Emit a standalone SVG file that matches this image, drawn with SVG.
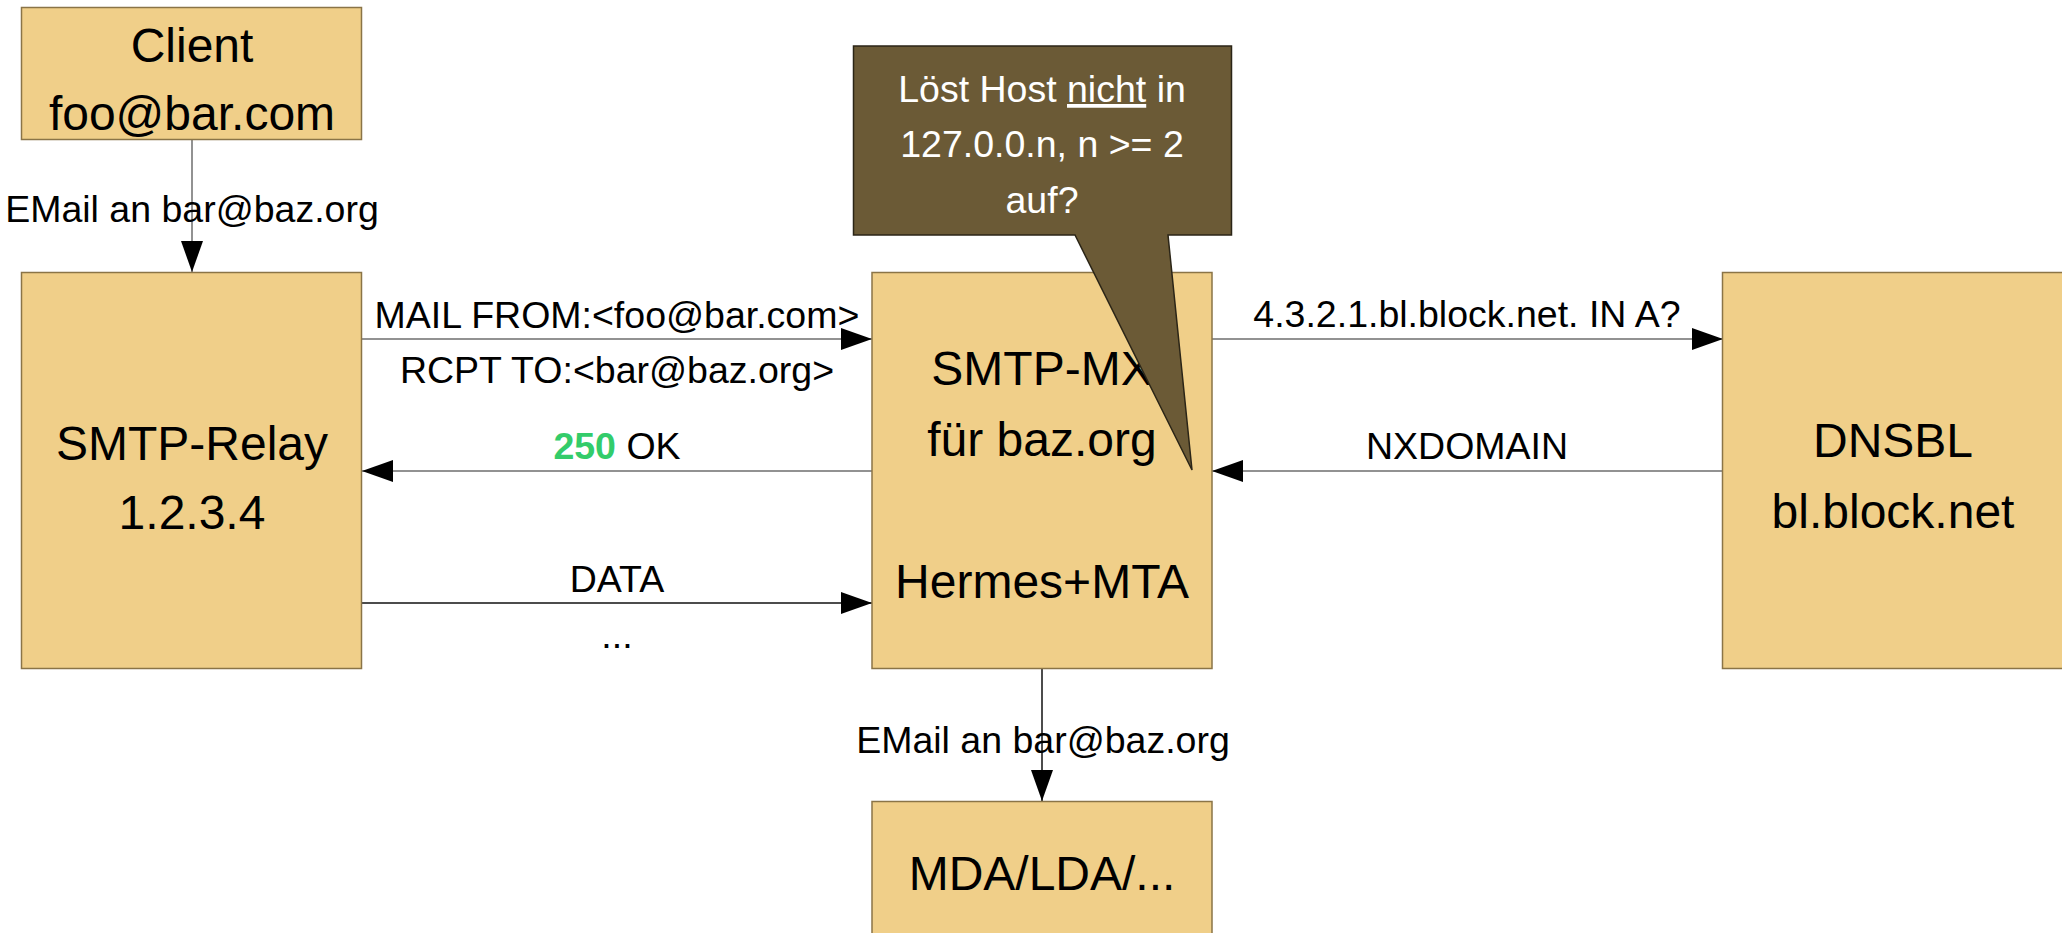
<svg xmlns="http://www.w3.org/2000/svg" width="2062" height="933" viewBox="0 0 2062 933">
  <style>
    .box { fill: #F0CF89; stroke: #8A7447; stroke-width: 1.5; }
    .node { font-family: "Liberation Sans", Arial, sans-serif; font-size: 48px; fill: #000; text-anchor: middle; }
    .lbl { font-family: "Liberation Sans", Arial, sans-serif; font-size: 37.5px; fill: #000; text-anchor: middle; }
    .edge { stroke: #6e6e6e; stroke-width: 1.5; fill: none; }
    .edge.dark { stroke: #111; }
    .note { fill: #6B5A36; stroke: #2B2517; stroke-width: 1.5; }
    .notetext { font-family: "Liberation Sans", Arial, sans-serif; font-size: 37.5px; fill: #fff; text-anchor: middle; }
  </style>
  <defs>
    <marker id="arrow" markerUnits="userSpaceOnUse" markerWidth="32" markerHeight="22" refX="31" refY="11" orient="auto">
      <path d="M0,0 L31,11 L0,22 Z" fill="#000"/>
    </marker>
  </defs>

  <rect width="2062" height="933" fill="#fff"/>

  <!-- connectors -->
  <g id="connectors">
    <line class="edge" x1="192" y1="139.5" x2="192" y2="272" marker-end="url(#arrow)"/>
    <line class="edge" x1="362" y1="339" x2="872" y2="339" marker-end="url(#arrow)"/>
    <line class="edge" x1="872" y1="471" x2="362" y2="471" marker-end="url(#arrow)"/>
    <line class="edge dark" x1="362" y1="603" x2="872" y2="603" marker-end="url(#arrow)"/>
    <line class="edge" x1="1212" y1="339" x2="1723" y2="339" marker-end="url(#arrow)"/>
    <line class="edge" x1="1723" y1="471" x2="1212" y2="471" marker-end="url(#arrow)"/>
    <line class="edge dark" x1="1042" y1="668.5" x2="1042" y2="801" marker-end="url(#arrow)"/>

    <text class="lbl" x="192" y="222">EMail an bar@baz.org</text>
    <text class="lbl" x="617" y="328">MAIL FROM:&lt;foo@bar.com&gt;</text>
    <text class="lbl" x="617" y="383">RCPT TO:&lt;bar@baz.org&gt;</text>
    <text class="lbl" x="617" y="459"><tspan fill="#33CC6A" font-weight="bold">250</tspan> OK</text>
    <text class="lbl" x="617" y="592">DATA</text>
    <text class="lbl" x="617" y="648">...</text>
    <text class="lbl" x="1467" y="327">4.3.2.1.bl.block.net. IN A?</text>
    <text class="lbl" x="1467" y="459">NXDOMAIN</text>
    <text class="lbl" x="1043" y="753">EMail an bar@baz.org</text>
  </g>

  <g id="client">
    <rect class="box" x="21.5" y="7.5" width="340" height="132"/>
    <text class="node" x="192" y="62">Client</text>
    <text class="node" x="192" y="130">foo@bar.com</text>
  </g>

  <g id="smtp-relay">
    <rect class="box" x="21.5" y="272.5" width="340" height="396"/>
    <text class="node" x="192" y="460">SMTP-Relay</text>
    <text class="node" x="192" y="529">1.2.3.4</text>
  </g>

  <g id="smtp-mx">
    <rect class="box" x="872" y="272.5" width="340" height="396"/>
    <text class="node" x="1042" y="385">SMTP-MX</text>
    <text class="node" x="1042" y="456">für baz.org</text>
    <text class="node" x="1042" y="598">Hermes+MTA</text>
  </g>

  <g id="dnsbl">
    <rect class="box" x="1722.5" y="272.5" width="345" height="396"/>
    <text class="node" x="1893" y="457">DNSBL</text>
    <text class="node" x="1893" y="528">bl.block.net</text>
  </g>

  <g id="mda">
    <rect class="box" x="872" y="801.5" width="340" height="140"/>
    <text class="node" x="1042" y="890">MDA/LDA/...</text>
  </g>

  <g id="callout">
    <path class="note" d="M853.5,46 H1231.5 V235 H1168 L1192,470 L1075,235 H853.5 Z"/>
    <text class="notetext" x="1042" y="102">Löst Host <tspan text-decoration="underline">nicht</tspan> in</text>
    <text class="notetext" x="1042" y="157">127.0.0.n, n &gt;= 2</text>
    <text class="notetext" x="1042" y="213">auf?</text>
  </g>
</svg>
